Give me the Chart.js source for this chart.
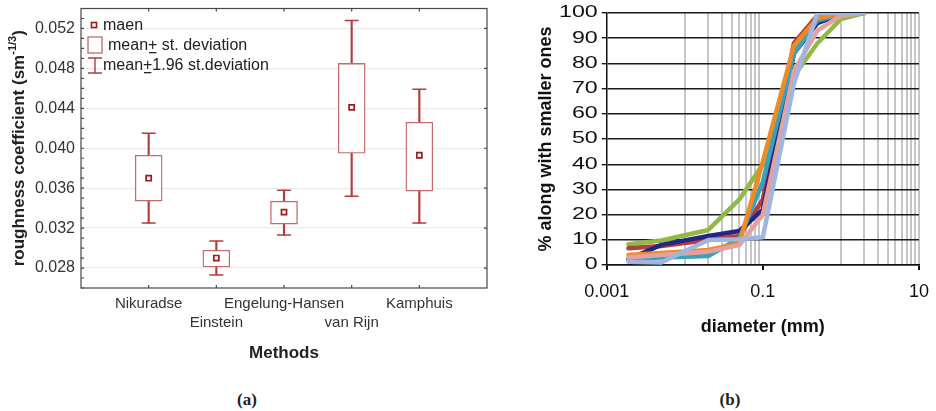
<!DOCTYPE html>
<html>
<head>
<meta charset="utf-8">
<script src="https://cdn.jsdelivr.net/npm/chart.js@4.4.1/dist/chart.umd.min.js"></script>
<style>
  body { margin: 0; background: #fff; width: 936px; height: 411px; position: relative; overflow: hidden; }
  #boxWrap { position: absolute; left: 0; top: 0; width: 500px; height: 370px; }
  #psdWrap { position: absolute; left: 500px; top: 0; width: 436px; height: 370px; }
  .cap { position: absolute; top: 390px; line-height: 20px; font: bold 17px 'Liberation Serif', serif; color: #222; transform: translateX(-50%); }
</style>
</head>
<body>
<div id="boxWrap"><canvas id="boxChart"></canvas></div>
<div id="psdWrap"><canvas id="psdChart"></canvas></div>
<div class="cap" style="left:247px">(a)</div>
<div class="cap" style="left:730px">(b)</div>
<script>
Chart.defaults.font.family = "'Liberation Sans', Arial, sans-serif";
Chart.defaults.color = '#222';

// roughness coefficient by method: mean, mean +- sd, mean +- 1.96 sd
const methods = ['Nikuradse', 'Einstein', 'Engelung-Hansen', 'van Rijn', 'Kamphuis'];
const means  = [0.0370, 0.0290, 0.0336, 0.0441, 0.0393];
const sdLow  = [0.0347, 0.0281, 0.0324, 0.0395, 0.0357];
const sdHigh = [0.0393, 0.0298, 0.0347, 0.0485, 0.0426];
const ciLow  = [0.0325, 0.0273, 0.0313, 0.0352, 0.0325];
const ciHigh = [0.0415, 0.0307, 0.0358, 0.0528, 0.0459];
const roughTicks = [0.026, 0.027, 0.028, 0.029, 0.030, 0.031, 0.032, 0.033, 0.034, 0.035,
  0.036, 0.037, 0.038, 0.039, 0.040, 0.041, 0.042, 0.043, 0.044, 0.045, 0.046, 0.047,
  0.048, 0.049, 0.050, 0.051, 0.052, 0.053, 0.054];
const roughLabels = [0.028, 0.032, 0.036, 0.040, 0.044, 0.048, 0.052];

// grain size distribution curves (% passing)
const diameters = [0.0019, 0.005, 0.02, 0.05, 0.1, 0.25, 0.5, 1, 2];
const sampleA = [2.3, 8, 11.5, 13.5, 22, 84, 96, 99.5, 100];
const sampleB = [6.6, 7.5, 9.9, 11.5, 26, 88, 99, 99.5, 100];
const sampleC = [8.2, 9.7, 13.9, 26, 40, 75, 88, 97.6, 100];
const sampleD = [2.4, 3, 3.6, 10.6, 33, 84, 97, 99.5, 100];
const sampleE = [4, 4.8, 6, 8.6, 41, 87, 98, 99.6, 100];
const sampleF = [3, 4, 5.3, 7.9, 20, 77, 93, 99, 100];
const sampleG = [1.3, 1, 9.9, 10.2, 11, 72, 100, 100, 100];
const sampleColors = ['#252584', '#b13f3b', '#92b846', '#34a3bf', '#ef8a26', '#e4a19e', '#9fb7e0'];
const sampleOrder = [4, 5, 6, 3, 2, 1, 0];
const xMajor = [0.001, 0.1, 10];
const xGrid = [0.001, 0.01, 0.02, 0.03, 0.04, 0.05, 0.06, 0.07, 0.08, 0.09, 0.1,
  1, 2, 3, 4, 5, 6, 7, 8, 9, 10];

const boxColor = '#c46a6a';
const whiskerColor = '#b33c3c';
const meanColor = '#9e1a1a';

function noPad(s) {
  s.paddingTop = 0; s.paddingBottom = 0; s.paddingLeft = 0; s.paddingRight = 0;
}
const isRoughLabel = v => roughLabels.some(l => Math.abs(l - v) < 1e-7);

// '+' with underline, written as in the original legend
function plusText(ctx, x, y, before, after) {
  ctx.fillText(before, x, y);
  x += ctx.measureText(before).width;
  ctx.fillText('+', x, y);
  const w = ctx.measureText('+').width;
  ctx.fillRect(x + 1, y + 6, w - 2, 1.3);
  ctx.fillText(after, x + w, y);
}

// frame, inward ticks, legend and y title of the box plot
const boxDecor = {
  id: 'boxDecor',
  afterDatasetsDraw(chart) {
    const { ctx, chartArea: a, scales: { x, y } } = chart;
    ctx.save();
    ctx.strokeStyle = '#474747';
    ctx.lineWidth = 1.2;
    ctx.strokeRect(a.left, a.top, a.right - a.left, a.bottom - a.top);
    ctx.beginPath();
    roughTicks.forEach(v => {
      const py = y.getPixelForValue(v);
      ctx.moveTo(a.left, py); ctx.lineTo(a.left + 3, py);
      if (isRoughLabel(v)) { ctx.moveTo(a.right - 3, py); ctx.lineTo(a.right, py); }
    });
    methods.forEach((m, i) => {
      const px = x.getPixelForValue(i + 1);
      ctx.moveTo(px, a.bottom); ctx.lineTo(px, a.bottom - 3);
      ctx.moveTo(px, a.top); ctx.lineTo(px, a.top + 3);
    });
    ctx.stroke();

    // legend
    ctx.fillStyle = '#fff';
    ctx.strokeStyle = meanColor;
    ctx.lineWidth = 1.6;
    ctx.fillRect(91.5, 22.5, 5, 5);
    ctx.strokeRect(91.5, 22.5, 5, 5);
    ctx.strokeStyle = boxColor;
    ctx.lineWidth = 1.3;
    ctx.strokeRect(88, 37, 14, 16);
    ctx.strokeStyle = whiskerColor;
    ctx.lineWidth = 1.4;
    ctx.beginPath();
    ctx.moveTo(95, 58); ctx.lineTo(95, 73);
    ctx.moveTo(88, 58); ctx.lineTo(102, 58);
    ctx.moveTo(88, 73); ctx.lineTo(102, 73);
    ctx.stroke();
    ctx.fillStyle = '#222';
    ctx.font = "16px 'Liberation Sans', Arial, sans-serif";
    ctx.textBaseline = 'middle';
    ctx.fillText('maen', 103, 26);
    plusText(ctx, 108, 46, 'mean', ' st. deviation');
    plusText(ctx, 103, 66, 'mean', '1.96 st.deviation');

    // y title with superscript unit
    ctx.translate(19, (a.top + a.bottom) / 2);
    ctx.rotate(-Math.PI / 2);
    ctx.textBaseline = 'alphabetic';
    const main = 'roughness coefficient (sm';
    const big = "bold 17px 'Liberation Sans', Arial, sans-serif";
    const small = "bold 11px 'Liberation Sans', Arial, sans-serif";
    ctx.font = big;
    const w1 = ctx.measureText(main).width;
    const w3 = ctx.measureText(')').width;
    ctx.font = small;
    const w2 = ctx.measureText('-1/3').width;
    let sx = -(w1 + w2 + w3) / 2;
    ctx.font = big;
    ctx.fillText(main, sx, 5);
    ctx.fillText(')', sx + w1 + w2, 5);
    ctx.font = small;
    ctx.fillText('-1/3', sx + w1, -3);
    ctx.restore();
  }
};

// percentage labels are drawn wide, as in the printed figure
const psdYLabels = {
  id: 'psdYLabels',
  afterDraw(chart) {
    const { ctx, chartArea: a, scales: { y } } = chart;
    ctx.save();
    ctx.fillStyle = '#111';
    ctx.font = "16px 'Liberation Sans', Arial, sans-serif";
    ctx.textAlign = 'right';
    ctx.textBaseline = 'middle';
    y.ticks.forEach(t => {
      ctx.save();
      ctx.translate(a.left - 9, y.getPixelForValue(t.value));
      ctx.scale(1.45, 1);
      ctx.fillText(String(t.value), 0, 0);
      ctx.restore();
    });
    ctx.restore();
  }
};

const slots = ['', ...methods.map((m, i) => i % 2 ? ['', m] : m), ''];
const pad = arr => [null, ...arr, null];

new Chart(document.getElementById('boxChart'), {
  type: 'bar',
  data: {
    labels: slots,
    datasets: [
      { type: 'line', label: 'maen', data: pad(means), showLine: false, pointStyle: 'rect',
        pointRadius: 3.6, pointBackgroundColor: '#fff', pointBorderColor: meanColor, pointBorderWidth: 1.7, order: 0 },
      { type: 'line', label: 'upper', data: pad(ciHigh), showLine: false, pointStyle: 'line',
        pointRadius: 7, pointBorderColor: whiskerColor, pointBorderWidth: 1.5, order: 1 },
      { type: 'line', label: 'lower', data: pad(ciLow), showLine: false, pointStyle: 'line',
        pointRadius: 7, pointBorderColor: whiskerColor, pointBorderWidth: 1.5, order: 1 },
      { label: 'mean+-sd', data: pad(sdLow.map((v, i) => [v, sdHigh[i]])), backgroundColor: '#fff',
        borderColor: boxColor, borderWidth: 1.4, borderSkipped: false, barThickness: 27, grouped: false, order: 2 },
      { label: 'mean+-1.96sd', data: pad(ciLow.map((v, i) => [v, ciHigh[i]])), backgroundColor: whiskerColor,
        barThickness: 1.5, grouped: false, order: 3 }
    ]
  },
  options: {
    responsive: true, maintainAspectRatio: false, animation: false, events: [],
    layout: { padding: { left: 0, right: 13, top: 6, bottom: 0 } },
    plugins: { legend: { display: false }, tooltip: { enabled: false } },
    scales: {
      x: {
        offset: false,
        grid: { display: false, drawTicks: false },
        border: { display: false },
        ticks: { autoSkip: false, maxRotation: 0, minRotation: 0, padding: 6, color: '#333',
          font: { size: 15, lineHeight: 1.3 } },
        afterFit: s => { s.height = 82; noPad(s); },
        title: { display: true, text: 'Methods', color: '#222', font: { size: 17, weight: 'bold' },
          padding: { top: 0, bottom: 6 } }
      },
      y: {
        min: 0.026, max: 0.054,
        afterBuildTicks: s => { s.ticks = roughTicks.map(v => ({ value: v })); },
        afterFit: s => { s.width = 81; noPad(s); },
        grid: { color: c => isRoughLabel(c.tick.value) ? '#ececec' : 'rgba(0,0,0,0)', lineWidth: 1.3, drawTicks: false },
        border: { display: false },
        ticks: { autoSkip: false, padding: 6, color: '#333', font: { size: 16 },
          callback: v => isRoughLabel(v) ? v.toFixed(3) : '' }
      }
    }
  },
  plugins: [boxDecor]
});

const samples = [sampleA, sampleB, sampleC, sampleD, sampleE, sampleF, sampleG];

new Chart(document.getElementById('psdChart'), {
  type: 'line',
  data: {
    datasets: samples.map((vals, i) => ({
      label: 'Sample ' + (i + 1),
      data: vals.map((v, j) => ({ x: diameters[j], y: v })),
      borderColor: sampleColors[i],
      order: sampleOrder[i]
    }))
  },
  options: {
    responsive: true, maintainAspectRatio: false, animation: false, events: [],
    layout: { padding: { left: 0, right: 17, top: 13, bottom: 0 } },
    plugins: { legend: { display: false }, tooltip: { enabled: false } },
    elements: {
      point: { radius: 0 },
      line: { borderWidth: 4.5, tension: 0, fill: false, borderCapStyle: 'round', borderJoinStyle: 'round' }
    },
    scales: {
      x: {
        type: 'logarithmic', min: 0.001, max: 10,
        afterBuildTicks: s => { s.ticks = xGrid.map(v => ({ value: v })); },
        afterFit: s => { s.height = 105; noPad(s); },
        grid: {
          color: c => (c.tick.value === 0.001 || c.tick.value === 0.1) ? 'rgba(0,0,0,0)' : '#c6c6c6',
          lineWidth: 2, tickLength: 5,
          tickColor: c => xMajor.includes(c.tick.value) ? '#111' : 'rgba(0,0,0,0)'
        },
        border: { display: true, color: '#111', width: 1.5 },
        ticks: { autoSkip: false, maxRotation: 0, minRotation: 0, padding: 11, color: '#111',
          font: { size: 18 }, callback: v => xMajor.includes(v) ? String(v) : '' },
        title: { display: true, text: 'diameter (mm)', color: '#111', font: { size: 18, weight: 'bold' },
          padding: { top: 0, bottom: 32 } }
      },
      y: {
        min: 0, max: 100,
        ticks: { stepSize: 10, autoSkip: false, display: false },
        grid: { color: '#1a1a1a', lineWidth: 1.4, tickLength: 5, tickColor: '#1a1a1a' },
        border: { display: true, color: '#111', width: 1.5 },
        afterFit: s => { s.width = 106.7; noPad(s); },
        title: { display: true, text: '% along with smaller ones', color: '#111',
          font: { size: 18, weight: 'bold' }, padding: { top: 35, bottom: 0 } }
      }
    }
  },
  plugins: [psdYLabels]
});
</script>
</body>
</html>
